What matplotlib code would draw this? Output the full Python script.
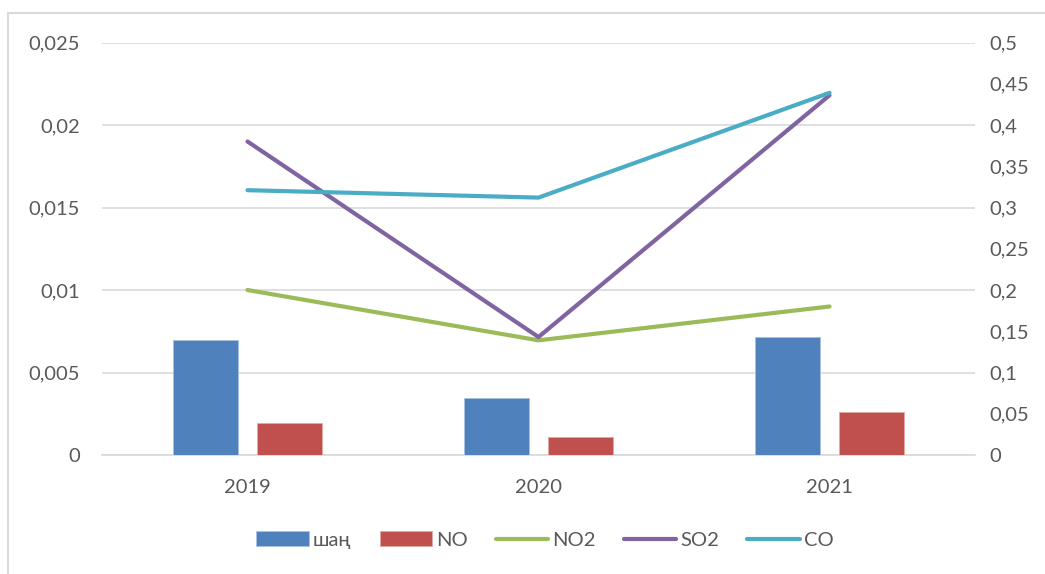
import matplotlib
matplotlib.use("Agg")
import matplotlib.pyplot as plt
from matplotlib.patches import Rectangle
from matplotlib.ticker import FuncFormatter, MultipleLocator
import numpy as np

plt.rcParams['font.family'] = ['Lato', 'DejaVu Sans']

years = ["2019", "2020", "2021"]
dust = [0.0070, 0.00347, 0.00713]        # шаң (left axis)
no = [0.00192, 0.00107, 0.00262]         # NO (left axis)
no2 = [0.200, 0.139, 0.180]              # NO2 (right axis)
so2 = [0.380, 0.143, 0.436]              # SO2 (right axis)
co = [0.321, 0.312, 0.439]               # CO (right axis)

C_BLUE = "#4F81BD"
C_RED = "#C0504D"
C_GREEN = "#9BBB59"
C_PURPLE = "#8064A2"
C_CYAN = "#4BACC6"
TXT = "#595959"
GRID = "#D9D9D9"
FS = 14.5

W, H = 1045, 574
fig = plt.figure(figsize=(W / 100, H / 100), dpi=100)

# light outer frame
fig.patches.append(Rectangle((7.5 / W, -0.05), 1.2, 1 - 12.5 / H + 0.05,
                             transform=fig.transFigure, fill=False,
                             edgecolor="#D9D9D9", linewidth=1.5))

ax = fig.add_axes([102 / W, (H - 455) / H, (975 - 102) / W, (455 - 42.5) / H])
ax2 = ax.twinx()

x = np.arange(len(years))
bw = 0.223
off = 0.144
ax.bar(x - off, dust, bw, color=C_BLUE, edgecolor="#A9C1E0", linewidth=0.6,
       label="шаң", zorder=3)
ax.bar(x + off, no, bw, color=C_RED, edgecolor="#E3A9A7", linewidth=0.6,
       label="NO", zorder=3)

ax2.plot(x, no2, color=C_GREEN, lw=3.0, solid_capstyle="round", label="NO2")
ax2.plot(x, so2, color=C_PURPLE, lw=3.0, solid_capstyle="round", label="SO2")
ax2.plot(x, co, color=C_CYAN, lw=3.0, solid_capstyle="round", label="CO")

ax.set_xlim(-0.5, 2.5)
ax.set_ylim(0, 0.025)
ax2.set_ylim(0, 0.5)
ax.yaxis.set_major_locator(MultipleLocator(0.005))
ax2.yaxis.set_major_locator(MultipleLocator(0.05))

def comma_fmt(v, pos):
    if abs(v) < 1e-12:
        return "0"
    s = f"{v:.4f}".rstrip("0").rstrip(".")
    return s.replace(".", ",")

ax.yaxis.set_major_formatter(FuncFormatter(comma_fmt))
ax2.yaxis.set_major_formatter(FuncFormatter(comma_fmt))

ax.set_xticks(x)
ax.set_xticklabels(years)
ax.grid(axis="y", color=GRID, linewidth=1.2, zorder=0)
ax.set_axisbelow(True)

for a in (ax, ax2):
    for sp in a.spines.values():
        sp.set_visible(False)
    a.tick_params(length=0, labelsize=FS, colors=TXT)
ax.spines["bottom"].set_visible(True)
ax.spines["bottom"].set_color(GRID)
ax.spines["bottom"].set_linewidth(1.2)
ax.tick_params(axis="y", pad=16)
ax.tick_params(axis="x", pad=17)
ax2.tick_params(axis="y", pad=10)

h1, l1 = ax.get_legend_handles_labels()
h2, l2 = ax2.get_legend_handles_labels()
leg = fig.legend(h1 + h2, l1 + l2, loc="center", bbox_to_anchor=(545 / W, 1 - 540 / H),
                 ncol=5, frameon=False, fontsize=FS, handlelength=2.6,
                 handleheight=0.75, columnspacing=1.4, handletextpad=0.2)
for t in leg.get_texts():
    t.set_color(TXT)

fig.savefig("out.png", dpi=100)
